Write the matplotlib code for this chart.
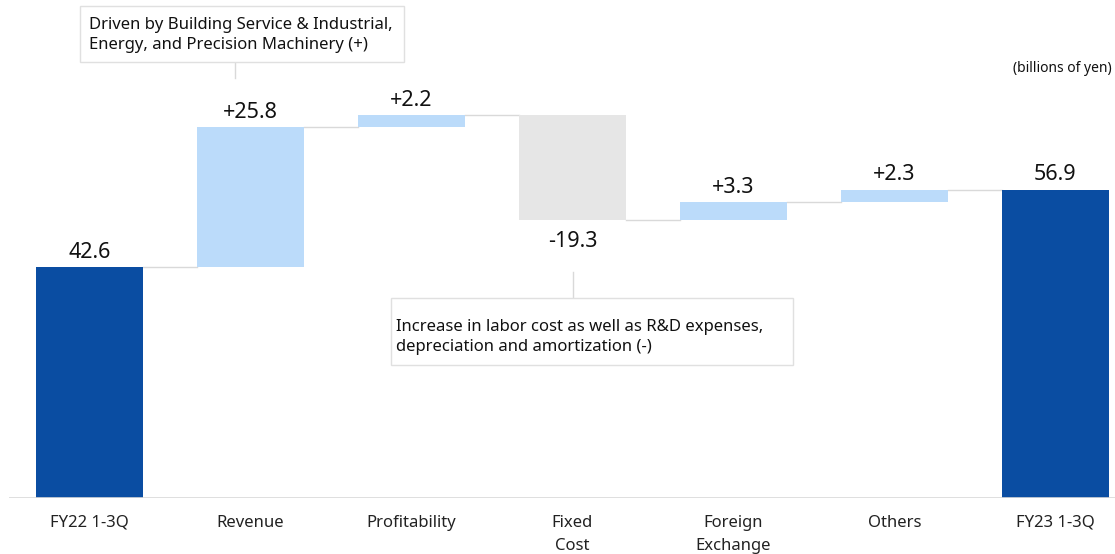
import matplotlib
matplotlib.use("Agg")
import matplotlib.pyplot as plt
from matplotlib.patches import Rectangle
import numpy as np

categories = ["FY22 1-3Q", "Revenue", "Profitability", "Fixed\nCost", "Foreign\nExchange", "Others", "FY23 1-3Q"]
start_value = 42.6
deltas = [25.8, 2.2, -19.3, 3.3, 2.3]
end_value = 56.9
value_labels = ["42.6", "+25.8", "+2.2", "-19.3", "+3.3", "+2.3", "56.9"]
unit_label = "(billions of yen)"
note_revenue = "Driven by Building Service & Industrial,\nEnergy, and Precision Machinery (+)"
note_fixed = "Increase in labor cost as well as R&D expenses,\ndepreciation and amortization (-)"

DARK = "#0A4DA2"
LIGHT = "#BBDBFA"
GRAY = "#E6E6E6"
LINE = "#D9D9D9"

plt.rcParams['font.family'] = ['Noto Sans', 'DejaVu Sans']

W, H = 1115, 554
fig = plt.figure(figsize=(W/100, H/100), dpi=100)
ax = fig.add_axes([9/W, 56/H, 1 - 9/W, 498/H])
ax.set_xlim(-0.5, 6.37)
ax.set_ylim(0, 91.9)

x = np.arange(len(categories))
w = 0.665

bottoms, heights, colors = [], [], []
bottoms.append(0); heights.append(start_value); colors.append(DARK)
level = start_value
for d in deltas:
    if d >= 0:
        bottoms.append(level); heights.append(d); colors.append(LIGHT)
    else:
        bottoms.append(level + d); heights.append(-d); colors.append(GRAY)
    level += d
bottoms.append(0); heights.append(end_value); colors.append(DARK)

ax.bar(x, heights, bottom=bottoms, width=w, color=colors, zorder=2)

# connectors
levels = [start_value]
lv = start_value
for d in deltas:
    lv += d
    levels.append(lv)
for i in range(len(categories) - 1):
    ax.plot([x[i] + w/2, x[i+1] - w/2], [levels[i], levels[i]], color=LINE, lw=1, zorder=1)

# labels
for i in range(len(categories)):
    top = bottoms[i] + heights[i]
    if i in (1, 2, 3, 4, 5) and deltas[i-1] < 0:
        ax.text(x[i], bottoms[i] - 2.0, value_labels[i], ha='center', va='top', fontsize=15.5, color='#111111')
    else:
        ax.text(x[i], top + 0.8, value_labels[i], ha='center', va='bottom', fontsize=15.5, color='#111111')

# baseline
ax.axhline(0, color=LINE, lw=1.2, zorder=3)

for s in ax.spines.values():
    s.set_visible(False)
ax.set_yticks([])
ax.set_xticks(x)
ax.set_xticklabels(categories, fontsize=12, color='#222222', linespacing=1.65)
ax.tick_params(axis='x', length=0, pad=12)


def note_box(x0, y0, x1, y1, text, tx, ty):
    fig.add_artist(Rectangle((x0/W, 1 - y1/H), (x1 - x0)/W, (y1 - y0)/H, transform=fig.transFigure,
                             fc='white', ec='#E0E0E0', lw=1, zorder=5))
    fig.text(tx/W, 1 - ty/H, text, ha='left', va='center', fontsize=12.0, color='#111111',
             linespacing=1.4, zorder=6)


note_box(80, 6, 404, 62, note_revenue, 89, 35)
fig.add_artist(plt.Line2D([235/W, 235/W], [1 - 62/H, 1 - 78/H], color=LINE, lw=1))
note_box(391, 298, 793, 365, note_fixed, 396, 337)
fig.add_artist(plt.Line2D([573/W, 573/W], [1 - 272/H, 1 - 298/H], color=LINE, lw=1))

fig.text(1112/W, 1 - 69/H, unit_label, ha='right', va='center', fontsize=10, color='#111111')

fig.savefig("out.png", dpi=100)
